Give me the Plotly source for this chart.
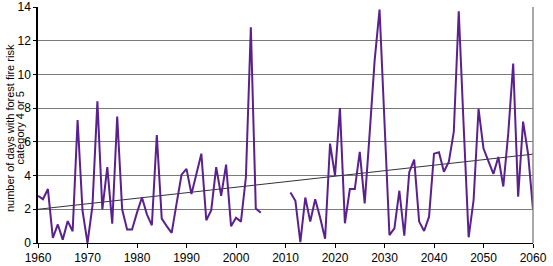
import plotly.graph_objects as go

years_a = list(range(1960, 2006))
values_a = [2.8, 2.6, 3.2, 0.3, 1.1, 0.2, 1.3, 0.7, 7.3, 1.9,
            0.0, 2.2, 8.4, 2.0, 4.5, 1.15, 7.5, 2.0, 0.8, 0.8,
            1.8, 2.7, 1.7, 1.05, 6.4, 1.45, 1.0, 0.6, 2.35, 4.05,
            4.4, 2.9, 4.1, 5.3, 1.35, 1.95, 4.5, 2.8, 4.65, 1.0,
            1.5, 1.27, 3.9, 12.8, 2.05, 1.8]
years_b = list(range(2011, 2061))
values_b = [3.0, 2.5, 0.05, 2.7, 1.27, 2.6, 1.5, 0.25, 5.9, 4.0,
            8.0, 1.17, 3.2, 3.2, 5.4, 2.35, 6.5, 10.8, 13.85, 6.9,
            0.47, 0.87, 3.1, 0.43, 4.2, 4.95, 1.27, 0.71, 1.56, 5.3,
            5.38, 4.23, 4.82, 6.6, 13.75, 6.9, 0.34, 2.55, 7.96, 5.6,
            4.82, 4.1, 5.1, 3.35, 6.5, 10.65, 2.75, 7.2, 5.3, 2.0]
trend_years = [1960, 2060]
trend_values = [2.0, 5.27]
x_ticks = list(range(1960, 2061, 10))
y_ticks = list(range(0, 15, 2))
y_title_lines = ["number of days with forest fire risk", "category 4 or 5"]

line_color = "#5b2090"
years = years_a + [None] + years_b
values = values_a + [None] + values_b

fig = go.Figure()
fig.add_trace(go.Scatter(x=trend_years, y=trend_values, mode="lines",
                         line=dict(color="#333333", width=1), hoverinfo="skip"))
fig.add_trace(go.Scatter(x=years, y=values, mode="lines", connectgaps=False,
                         line=dict(color=line_color, width=2)))

family = "Liberation Sans, Arial, sans-serif"
font = dict(family=family, size=12, color="#000000")
title_font = dict(family=family, size=11, color="#000000")
fig.update_layout(
    width=553, height=266,
    margin=dict(l=38, r=20, t=7, b=23, autoexpand=False),
    paper_bgcolor="white", plot_bgcolor="white",
    showlegend=False, font=font,
    xaxis=dict(range=[1960, 2060], tickvals=x_ticks, ticks="outside", ticklen=4,
               tickcolor="#000", showgrid=False, zeroline=False, automargin=False,
               showline=True, linecolor="#000", linewidth=1, tickfont=font),
    yaxis=dict(range=[0, 14], tickvals=y_ticks, ticks="outside", ticklen=3,
               tickcolor="#000", showgrid=True, gridcolor="#7a7a7a", gridwidth=1.3,
               zeroline=False, showline=True, linecolor="#000", linewidth=1.5,
               tickfont=font, automargin=False),
    shapes=[dict(type="line", xref="paper", yref="paper", x0=1, x1=1, y0=0, y1=1,
                 line=dict(color="#7a7a7a", width=1.3))],
    annotations=[
        dict(text=y_title_lines[0], xref="paper", yref="paper", x=-0.0565, y=0.487,
             xanchor="center", yanchor="middle", textangle=-90,
             showarrow=False, font=title_font),
        dict(text=y_title_lines[1], xref="paper", yref="paper", x=-0.0355, y=0.487,
             xanchor="center", yanchor="middle", textangle=-90,
             showarrow=False, font=title_font),
    ],
)
fig.write_html("out.html", config={"displayModeBar": False},
               post_script="document.body.style.margin='0';")
